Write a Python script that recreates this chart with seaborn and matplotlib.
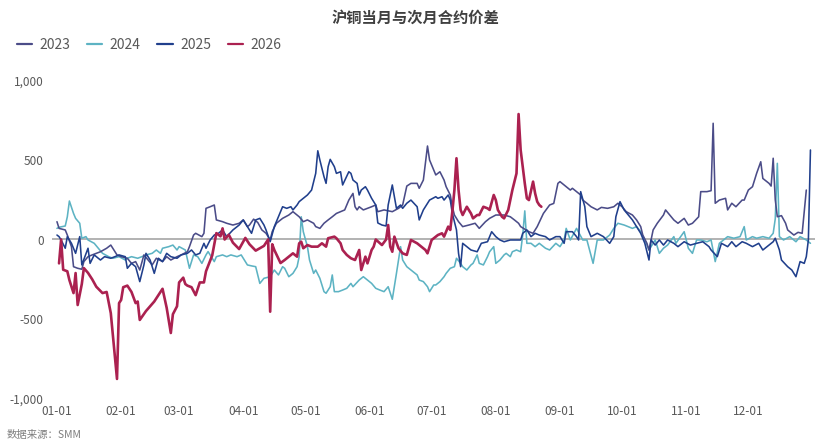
import pandas as pd
import matplotlib
matplotlib.use("Agg")
import matplotlib.pyplot as plt
import matplotlib.dates as mdates
from matplotlib.ticker import FuncFormatter, FixedLocator
from matplotlib.lines import Line2D
import seaborn as sns

sns.set_theme(style="white")
plt.rcParams["font.family"] = ["Noto Sans CJK SC", "DejaVu Sans"]

# ---- data: (day of year, spread) ----
s2023 = [(0,112),(1,70),(4,60),(5,28),(7,-45),(8,-171),(10,-181),(12,-187),(13,-139),(15,-108),
         (17,-97),(21,-77),(24,-55),(26,-35),(29,-97),(31,-108),(34,-118),(36,-150),(38,-139),(40,-192),
         (42,-97),(44,-129),(46,-160),(48,-118),(51,-139),(53,-108),(55,-129),(58,-108),(60,-97),(63,-77),
         (64,-45),(66,28),(67,39),(70,18),(71,39),(72,196),(74,206),(76,217),(77,123),(80,112),
         (82,102),(85,91),(88,102),(90,123),(92,81),(93,91),(95,128),(97,107),(99,60),(101,39),
         (103,-3),(104,50),(106,102),(109,133),(112,154),(114,175),(117,143),(119,112),(121,123),(124,102),
         (125,81),(127,70),(129,102),(131,123),(133,143),(135,164),(137,175),(139,186),(141,248),(143,290),
         (144,206),(145,186),(146,206),(148,186),(150,196),(152,206),(154,217),(155,175),(158,186),(162,175),
         (165,196),(167,217),(169,336),(171,353),(174,353),(175,322),(177,374),(178,479),(179,588),(180,500),
         (182,437),(183,406),(185,426),(187,374),(188,332),(190,280),(191,206),(192,154),(194,112),(196,81),
         (199,91),(202,102),(204,70),(207,112),(209,133),(212,154),(214,154),(216,154),(219,143),(221,123),
         (223,102),(224,81),(228,49),(230,39),(232,81),(235,164),(238,217),(240,227),(242,353),(243,364),
         (245,343),(248,311),(249,322),(251,301),(253,280),(254,248),(256,228),(258,206),(261,186),(263,202),
         (266,196),(269,206),(271,228),(273,206),(275,175),(278,154),(280,123),(282,81),(283,28),(285,-24),
         (286,-66),(288,60),(290,102),(293,154),(294,186),(296,154),(298,123),(300,102),(303,133),(305,91),
         (307,102),(310,143),(311,301),(314,301),(316,307),(317,731),(318,228),(320,248),(323,259),(324,186),
         (326,228),(328,206),(331,248),(332,248),(334,311),(336,332),(338,416),(340,489),(341,384),(344,353),
         (345,336),(346,511),(347,250),(348,143),(350,150),(352,102),(353,60),(356,28),(358,45),(360,39),
         (362,311)]

s2024 = [(0,70),(1,77),(4,85),(5,143),(6,242),(8,164),(9,133),(11,102),(12,8),(14,18),
         (15,-3),(18,-24),(20,-55),(22,-87),(25,-108),(27,-118),(30,-108),(33,-129),(34,-118),(36,-108),
         (39,-118),(41,-108),(43,-97),(46,-87),(48,-66),(50,-87),(51,-55),(54,-45),(56,-35),(58,-66),
         (59,-45),(62,-66),(64,-181),(66,-97),(68,-108),(70,-150),(72,-97),(73,-76),(76,-139),(77,-108),
         (80,-97),(82,-108),(84,-97),(87,-108),(89,-97),(92,-160),(94,-166),(96,-171),(98,-276),(100,-244),
         (103,-234),(105,-192),(107,-223),(109,-171),(110,-181),(112,-234),(114,-213),(116,-171),(117,-108),(118,143),
         (119,49),(121,-45),(122,-129),(124,-213),(125,-192),(127,-244),(129,-328),(130,-338),(132,-297),(133,-223),
         (134,-328),(136,-328),(138,-318),(140,-307),(142,-276),(143,-297),(146,-255),(148,-234),(150,-255),(152,-276),
         (154,-307),(156,-318),(158,-328),(160,-297),(162,-376),(164,-213),(166,-45),(167,-129),(169,-171),(171,-192),
         (172,-202),(174,-223),(175,-255),(177,-265),(179,-297),(180,-328),(182,-286),(183,-286),(185,-265),(187,-234),
         (188,-213),(190,-181),(192,-171),(193,-118),(195,-150),(196,-171),(198,-192),(200,-160),(201,-150),(203,-97),
         (204,-150),(206,-160),(208,-108),(209,-77),(211,-45),(212,-150),(214,-129),(216,-97),(217,-87),(219,-108),
         (220,-77),(222,-66),(224,-77),(225,28),(226,180),(227,-24),(229,-24),(231,-45),(233,-24),(236,-55),
         (238,-66),(241,-24),(243,-45),(245,-3),(246,70),(248,-3),(251,70),(254,-3),(256,-3),(259,-150),
         (261,-3),(264,-3),(267,28),(269,70),(271,102),(274,91),(278,70),(280,81),(282,49),(284,-3),
         (286,-66),(289,-3),(291,-87),(293,-55),(295,-35),(298,18),(299,-24),(303,49),(305,-55),(307,-87),
         (309,-3),(311,-3),(314,-14),(316,-3),(318,-139),(320,-24),(322,-3),(324,18),(327,8),(330,18),
         (332,81),(333,-3),(336,18),(338,8),(341,18),(344,8),(346,39),(347,130),(348,479),(349,18),
         (351,-3),(354,18),(357,-14),(359,18),(362,-3),(364,-24)]

s2025 = [(0,28),(1,18),(2,-3),(4,-55),(5,18),(7,-24),(9,-87),(11,18),(12,-160),(15,-55),
         (16,-150),(18,-97),(21,-129),(23,-108),(26,-118),(28,-108),(30,-97),(33,-108),(34,-181),(36,-150),
         (38,-171),(40,-265),(42,-160),(43,-87),(45,-129),(47,-213),(49,-118),(51,-139),(53,-87),(55,-108),
         (58,-118),(60,-97),(63,-87),(65,-66),(67,-97),(69,-87),(71,-24),(72,-55),(74,-3),(76,28),
         (78,39),(80,60),(82,18),(85,60),(88,91),(90,123),(92,81),(94,39),(96,123),(98,133),
         (100,91),(101,60),(103,-14),(105,81),(107,143),(109,206),(111,196),(113,206),(114,186),(116,217),
         (117,238),(119,259),(121,280),(123,311),(125,416),(126,558),(127,500),(129,395),(130,353),(131,458),
         (132,504),(134,458),(135,416),(137,426),(138,343),(141,426),(142,416),(143,374),(145,353),(146,280),
         (147,311),(149,332),(150,311),(152,259),(154,217),(155,104),(157,91),(159,85),(160,217),(162,343),
         (163,270),(164,196),(166,217),(167,196),(169,228),(171,248),(174,206),(175,123),(177,186),(179,228),
         (180,248),(183,269),(184,259),(186,269),(187,248),(189,280),(190,248),(191,164),(193,60),(194,-87),
         (195,-171),(196,-24),(198,-45),(200,-66),(203,-77),(205,-24),(208,-14),(210,49),(212,18),(214,-3),
         (216,-14),(219,-3),(221,-3),(224,-3),(225,39),(227,60),(229,18),(231,39),(233,28),(236,18),
         (238,-3),(241,18),(243,18),(245,-24),(246,49),(249,49),(251,18),(252,-3),(253,301),(255,206),
         (256,81),(258,18),(261,39),(264,18),(267,-24),(269,18),(270,143),(272,238),(274,186),(278,123),
         (282,39),(284,-24),(286,-129),(287,-3),(289,-35),(291,-3),(293,-35),(295,-3),(298,-24),(300,-45),
         (303,-14),(306,-35),(309,-24),(312,-14),(315,-45),(316,-66),(319,-108),(321,-24),(324,-45),(326,-14),
         (328,-45),(331,-14),(333,-24),(336,-45),(339,-24),(341,-66),(344,-35),(346,-14),(347,8),(349,-66),
         (350,-129),(353,-171),(355,-192),(357,-234),(359,-139),(361,-150),(362,-108),(363,-3),(364,563)]

s2026 = [(1,-150),(2,0),(3,-190),(5,-200),(6,-255),(8,-337),(9,-211),(10,-412),(12,-280),(13,-180),
         (15,-210),(17,-250),(19,-297),(22,-337),(24,-330),(26,-463),(28,-737),(29,-877),(30,-400),(31,-380),
         (32,-300),(34,-290),(36,-330),(38,-400),(39,-390),(40,-506),(43,-450),(47,-390),(51,-310),(53,-430),
         (55,-588),(56,-470),(58,-420),(59,-270),(61,-240),(62,-280),(63,-290),(65,-300),(67,-350),(69,-270),
         (71,-270),(72,-200),(75,-100),(77,40),(79,20),(80,70),(81,0),(83,30),(85,-20),(88,-60),
         (91,10),(93,-30),(96,-70),(100,-40),(102,0),(103,-454),(104,-30),(105,-66),(108,-148),(110,-129),
         (112,-108),(114,-87),(116,-108),(117,-24),(118,-14),(119,-55),(121,-35),(123,-45),(126,-45),(128,-24),
         (130,-45),(131,8),(134,18),(135,8),(137,-24),(138,-66),(140,-97),(142,-118),(144,-129),(146,-66),
         (147,-192),(149,-108),(150,-150),(152,-66),(153,-45),(154,0),(157,-35),(159,0),(160,91),(161,-45),
         (162,-77),(163,18),(165,-55),(167,-87),(169,-97),(171,-3),(174,-24),(176,-45),(178,-66),(179,-87),
         (181,-3),(183,18),(184,28),(186,39),(187,18),(189,81),(190,60),(191,175),(192,311),(193,511),
         (194,311),(195,186),(196,154),(198,206),(200,164),(201,133),(203,154),(204,154),(206,206),(208,196),
         (209,186),(211,280),(212,248),(213,186),(215,143),(216,133),(218,186),(219,248),(220,311),(222,416),
         (223,789),(224,563),(226,353),(227,259),(228,248),(230,364),(231,290),(232,238),(233,217),(234,206)]

years = ["2023", "2024", "2025", "2026"]
colors = {"2023": "#4b4c88", "2024": "#5db3c3", "2025": "#203f8c", "2026": "#ab2150"}
widths = {"2023": 1.15, "2024": 1.15, "2025": 1.15, "2026": 1.9}
y_ticks = [-1000, -500, 0, 500, 1000]

base = pd.Timestamp("2001-01-01")
frames = []
for name, series in zip(years, [s2023, s2024, s2025, s2026]):
    d, v = zip(*series)
    frames.append(pd.DataFrame({"date": base + pd.to_timedelta(list(d), unit="D"),
                                "value": list(v), "year": name}))
df = pd.concat(frames, ignore_index=True)

W, H = 831, 448
fig = plt.figure(figsize=(W / 100, H / 100), dpi=100)
ax = fig.add_axes([52 / W, 1 - 398.5 / H, (815 - 52) / W, (398.5 - 80.5) / H])

ax.axhline(0, color="#a6a6a6", lw=1.2, zorder=1)
for i, name in enumerate(["2024", "2023", "2025", "2026"]):
    sub = df[df["year"] == name]
    sns.lineplot(data=sub, x="date", y="value", color=colors[name], lw=widths[name],
                 ax=ax, estimator=None, sort=False, legend=False, zorder=2 + i)

ax.set_ylim(-1000, 1000)
ax.set_xlim(base - pd.Timedelta(days=2.4), base + pd.Timedelta(days=366.2))
ax.set_yticks(y_ticks)
ax.yaxis.set_major_formatter(FuncFormatter(lambda v, p: f"{v:,.0f}"))
month_starts = pd.date_range(base, periods=12, freq="MS")
ax.xaxis.set_major_locator(FixedLocator(mdates.date2num(month_starts)))
ax.xaxis.set_major_formatter(mdates.DateFormatter("%m-%d"))
ax.tick_params(axis="both", length=0, labelsize=8.5, colors="#595959")
ax.tick_params(axis="y", pad=6)
ax.tick_params(axis="x", pad=5)
ax.set_xlabel("")
ax.set_ylabel("")
ax.grid(False)
for s in ax.spines.values():
    s.set_visible(False)

fig.text(0.5, 1 - 18 / H, "沪铜当月与次月合约价差", ha="center", va="center",
         fontsize=11, fontweight="bold", color="#404040")

handles = [Line2D([0], [0], color=colors[y], lw=1.6) for y in years]
fig.legend(handles, years, loc="center left", bbox_to_anchor=(4 / W, 1 - 45 / H),
           ncol=4, frameon=False, fontsize=10, labelcolor="#595959",
           handlelength=1.1, handletextpad=0.55, columnspacing=1.2)

fig.text(7 / W, 1 - 435 / H, "数据来源：SMM", ha="left", va="center",
         fontsize=7.5, color="#7f7f7f")

fig.savefig("out.png", dpi=100)
